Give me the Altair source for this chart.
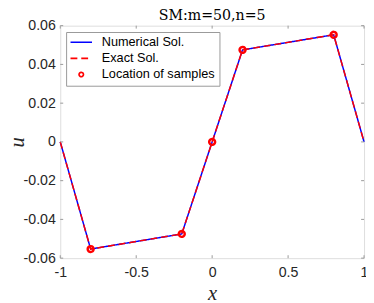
import altair as alt
import pandas as pd

# data
x_vals = [-1.0, -0.8, -0.2, 0.0, 0.2, 0.8, 1.0]
u_num = [0.0, -0.0553, -0.0475, 0.0, 0.0475, 0.0553, 0.0]
u_exact = [0.0, -0.0553, -0.0475, 0.0, 0.0475, 0.0553, 0.0]
sample_x = [-0.8, -0.2, 0.0, 0.2, 0.8]
sample_u = [-0.0553, -0.0475, 0.0, 0.0475, 0.0553]
series_names = ["Numerical Sol.", "Exact Sol.", "Location of samples"]
x_ticks = [-1, -0.5, 0, 0.5, 1]
y_ticks = [-0.06, -0.04, -0.02, 0, 0.02, 0.04, 0.06]

W, H = 311, 238

df_num = pd.DataFrame({"x": x_vals, "u": u_num, "series": series_names[0]})
df_ex = pd.DataFrame({"x": x_vals, "u": u_exact, "series": series_names[1]})
df_s = pd.DataFrame({"x": sample_x, "u": sample_u, "series": series_names[2]})
df_xt = pd.DataFrame({"x": x_ticks})
df_yt = pd.DataFrame({"u": y_ticks})

tick_col = "#262626"
frame_col = "#999999"
DASH = [7, 4]

xscale = alt.Scale(domain=[-1, 1], nice=False, zero=False)
yscale = alt.Scale(domain=[-0.06, 0.06], nice=False, zero=False)

x_axis = alt.Axis(
    values=x_ticks, grid=False, ticks=False, domain=False,
    labelFont="Liberation Sans", labelFontSize=14.5, labelColor=tick_col,
    labelPadding=7.5, labelFlush=False, labelOverlap=False,
    labelExpr="(datum.value < 0 ? '-' : '') + abs(datum.value)",
    title="x", titleFont="Liberation Serif", titleFontStyle="italic",
    titleFontWeight="normal", titleFontSize=21, titleColor=tick_col,
    titleX=W / 2, titleY=42.5, titleBaseline="alphabetic", titleAlign="center",
)
y_axis = alt.Axis(
    values=y_ticks, grid=False, ticks=False, domain=False,
    labelFont="Liberation Sans", labelFontSize=14.5, labelColor=tick_col,
    labelPadding=5, labelFlush=False, labelOverlap=False,
    labelExpr="datum.value == 0 ? '0' : (datum.value < 0 ? '-' : '') + abs(datum.value)",
    title="u", titleFont="Liberation Serif", titleFontStyle="italic",
    titleFontWeight="normal", titleFontSize=21, titleColor=tick_col,
    titleAngle=270, titleX=-38, titleY=H / 2, titleBaseline="alphabetic",
    titleAlign="center",
)

LINE_PATH = "M-2.2,0L2.2,0"
CIRC_PATH = "M0.45,0A0.45,0.45 0 1,1 -0.45,0A0.45,0.45 0 1,1 0.45,0Z"

color_scale = alt.Scale(domain=series_names, range=["#0000ff", "#ff0000", "#ff0000"])
shape_scale = alt.Scale(domain=series_names, range=[LINE_PATH, LINE_PATH, CIRC_PATH])
dash_scale = alt.Scale(domain=series_names, range=[[1, 0], DASH, [1, 0]])
legend = alt.Legend(
    title=None, orient="none", legendX=6, legendY=6.5,
    fillColor="white", strokeColor=frame_col, padding=4, rowPadding=2.5,
    labelFont="Liberation Sans", labelFontSize=13, labelColor="black",
    labelOffset=14.5, symbolOffset=5, symbolSize=100, symbolStrokeWidth=1.7,
    symbolFillColor="transparent",
)

col = alt.Color("series:N", scale=color_scale, legend=legend)
dash = alt.StrokeDash("series:N", scale=dash_scale, legend=legend)
shp = alt.Shape("series:N", scale=shape_scale, legend=legend)
X = alt.X("x:Q", scale=xscale, axis=x_axis)
Y = alt.Y("u:Q", scale=yscale, axis=y_axis)

num_line = alt.Chart(df_num).mark_line(strokeWidth=1.5).encode(x=X, y=Y, color=col, strokeDash=dash)
ex_line = alt.Chart(df_ex).mark_line(strokeWidth=1.5).encode(x=X, y=Y, color=col, strokeDash=dash)
pts = alt.Chart(df_s).mark_point(filled=False, size=178, strokeWidth=2.5, opacity=1).encode(
    x=X, y=Y, color=col, shape=shp, strokeDash=dash
)

tick_len = 3
xt_bot = alt.Chart(df_xt).mark_rule(color=frame_col, strokeWidth=1).encode(
    x=X, y=alt.value(H), y2=alt.value(H - tick_len))
xt_top = alt.Chart(df_xt).mark_rule(color=frame_col, strokeWidth=1).encode(
    x=X, y=alt.value(0), y2=alt.value(tick_len))
yt_left = alt.Chart(df_yt).mark_rule(color=frame_col, strokeWidth=1).encode(
    y=Y, x=alt.value(0), x2=alt.value(tick_len))
yt_right = alt.Chart(df_yt).mark_rule(color=frame_col, strokeWidth=1).encode(
    y=Y, x=alt.value(W), x2=alt.value(W - tick_len))

chart = alt.layer(num_line, ex_line, pts, xt_bot, xt_top, yt_left, yt_right).properties(
    width=W, height=H,
    title=alt.TitleParams(
        "SM:m=50,n=5", font="DejaVu Serif", fontSize=14.5, fontWeight="normal",
        color="black", offset=-16.5, frame="group", anchor="middle", baseline="alphabetic",
    ),
    autosize=alt.AutoSizeParams(type="none"),
    padding={"left": 53.5, "top": 14.5, "right": 2, "bottom": 50},
).configure_view(stroke=frame_col, strokeWidth=1).configure(background="white")

chart.save("out.html", embed_options={"renderer": "svg", "actions": False})
